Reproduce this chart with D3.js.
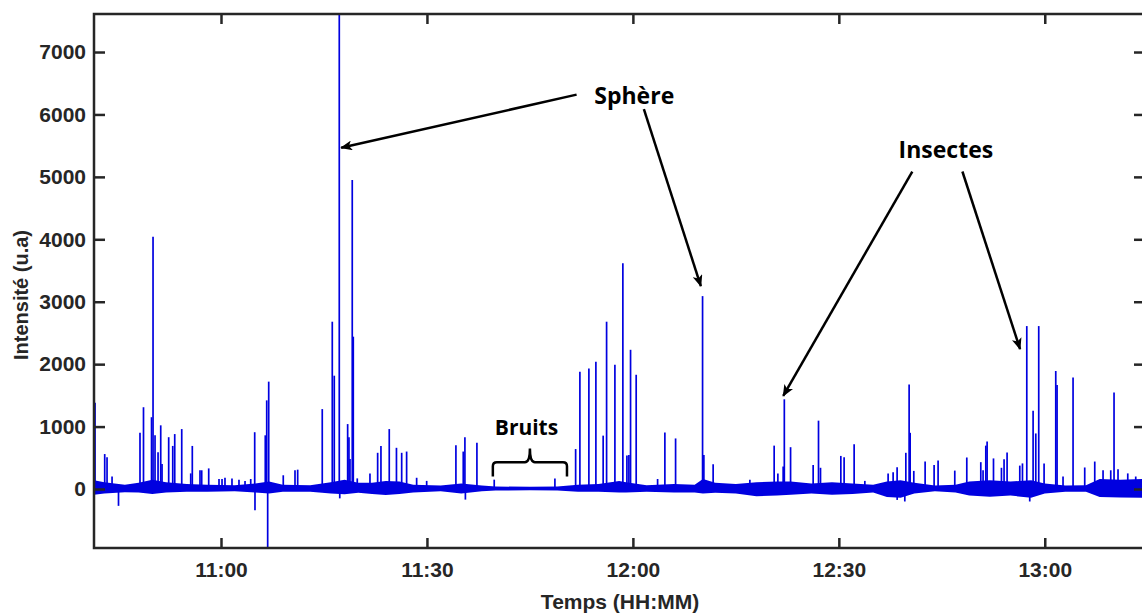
<!DOCTYPE html>
<html>
<head>
<meta charset="utf-8">
<script src="https://cdn.jsdelivr.net/npm/d3@7"></script>
<style>
  body { margin: 0; background: #fff; }
  svg { display: block; font-family: "Liberation Sans", Arial, sans-serif; }
  .axis text { font-size: 21px; font-weight: bold; fill: #262626; }
  .axis line { stroke: #262626; stroke-width: 2.5; }
  .note { font-family: "Open Sans", sans-serif; font-weight: bold; fill: #000; }
</style>
</head>
<body>
<div id="chart"></div>
<script>
// time in minutes after midnight, intensity in u.a
const timeRange = [641.5, 794.6];
const yRange = [-945, 7609];
const yTicks = [0, 1000, 2000, 3000, 4000, 5000, 6000, 7000];

// upward spikes [minute, intensity]
const spikes = [
  [641.65, 1380], [643.06, 560], [643.40, 510], [644.13, 200], [648.20, 900], [648.71, 1310],
  [649.88, 1150], [650.10, 4040], [650.39, 860], [650.83, 590], [651.22, 1020], [651.41, 400],
  [652.38, 830], [652.97, 690], [653.26, 880], [654.28, 960], [655.59, 250], [655.82, 690],
  [656.94, 300], [657.19, 300], [658.21, 330], [659.71, 160], [660.15, 160], [660.58, 180],
  [661.60, 170], [662.62, 150], [663.50, 130], [664.33, 160], [664.91, 910], [666.45, 860],
  [666.66, 1420], [666.95, 1720], [669.07, 220], [670.78, 300], [671.17, 310], [674.75, 1280],
  [676.21, 2680], [676.50, 1815], [677.23, 7700], [678.45, 1040], [678.64, 830], [678.79, 480],
  [679.12, 4950], [679.27, 2440], [679.85, 170], [681.70, 250], [682.82, 580], [683.30, 690],
  [684.51, 960], [685.56, 660], [686.32, 580], [687.04, 600], [688.50, 180], [689.96, 130],
  [694.22, 700], [695.29, 600], [695.53, 830], [697.28, 740], [699.80, 150], [708.64, 170],
  [711.66, 640], [712.28, 1880], [713.59, 1930], [714.61, 2040], [715.67, 855], [716.17, 2680],
  [717.38, 1990], [718.54, 3615], [719.13, 535], [719.42, 545], [719.66, 2230], [720.48, 1830],
  [723.60, 160], [724.66, 905], [726.22, 810], [730.15, 3090], [730.34, 545], [731.69, 395],
  [737.04, 150], [740.58, 695], [741.12, 250], [741.89, 360], [742.06, 1437], [742.97, 670],
  [746.26, 385], [747.04, 1095], [747.33, 340], [750.29, 530], [750.77, 510], [752.23, 715],
  [753.79, 130], [757.18, 250], [757.91, 270], [758.49, 350], [759.76, 580], [760.24, 1675],
  [760.39, 900], [760.92, 290], [762.57, 440], [763.88, 385], [764.46, 455], [766.89, 295],
  [768.64, 505], [770.68, 430], [771.01, 300], [771.41, 695], [771.60, 760], [772.53, 490],
  [773.69, 340], [774.07, 475], [774.51, 585], [776.36, 375], [776.75, 410], [777.38, 2610],
  [778.30, 1255], [778.69, 890], [779.12, 2610], [779.90, 410], [781.60, 1890], [781.79, 1665],
  [782.66, 200], [784.12, 1785], [785.82, 345], [787.28, 440], [788.49, 300], [789.61, 300],
  [790.09, 1545], [790.67, 315], [792.09, 250], [793.25, 200]
];

// downward spikes [minute, intensity]
const dips = [
  [645.07, -270], [664.95, -340], [666.80, -1000], [677.30, -150], [695.60, -170],
  [758.50, -175], [759.61, -200], [777.81, -200]
];

// noise band around the baseline
const bandTimes = [641.5, 643, 646, 648, 650, 652, 655, 658, 662, 665, 667, 669, 673, 676, 678, 680,
  682, 684, 686, 688, 692, 695, 698, 700, 705, 709, 712, 715, 718, 719, 722, 726, 729, 730.2, 732,
  735, 738, 741, 743, 746, 749, 752, 755, 757, 759, 761, 764, 767, 769, 772, 775, 778, 780, 783,
  786, 788, 791, 794.6];
const bandHigh = [140, 110, 70, 100, 150, 110, 80, 70, 60, 90, 120, 70, 60, 110, 150, 100,
  100, 130, 120, 70, 55, 90, 55, 40, 35, 40, 70, 80, 130, 110, 60, 80, 70, 160, 100,
  80, 110, 120, 120, 90, 110, 90, 70, 120, 140, 100, 55, 70, 120, 140, 120, 140, 90, 55,
  60, 160, 150, 160];
const bandLow = [-90, -70, -50, -55, -80, -55, -45, -45, -35, -55, -70, -45, -45, -70, -85, -60,
  -80, -95, -80, -55, -35, -70, -35, -25, -20, -25, -45, -45, -55, -55, -45, -55, -55, -70, -60,
  -70, -115, -105, -90, -70, -90, -80, -55, -130, -140, -70, -35, -55, -105, -125, -105, -140, -70, -45,
  -45, -130, -135, -140];

const toDate = m => new Date(2000, 0, 1, 0, 0, 0, Math.round(m * 60000));

const W = 1142, H = 613;
const margin = { top: 14, right: -3, bottom: 65, left: 94 };
const blue = "#0000e0";

const x = d3.scaleTime()
  .domain(timeRange.map(toDate))
  .range([margin.left, W - margin.right]);
const y = d3.scaleLinear()
  .domain(yRange)
  .range([H - margin.bottom, margin.top]);

const svg = d3.select("#chart").append("svg")
  .attr("width", W)
  .attr("height", H)
  .style("overflow", "hidden");

svg.append("defs").append("clipPath")
    .attr("id", "plot")
  .append("rect")
    .attr("x", margin.left)
    .attr("y", margin.top)
    .attr("width", W - margin.right - margin.left)
    .attr("height", H - margin.bottom - margin.top);

const marker = svg.select("defs").append("marker")
  .attr("id", "head")
  .attr("viewBox", "0 0 12 10")
  .attr("refX", 11)
  .attr("refY", 5)
  .attr("markerUnits", "userSpaceOnUse")
  .attr("markerWidth", 13)
  .attr("markerHeight", 10)
  .attr("orient", "auto");
marker.append("path").attr("d", "M0,0 L12,5 L0,10 L3,5 Z").attr("fill", "#000");

const plot = svg.append("g").attr("clip-path", "url(#plot)");

const band = bandTimes.map((t, i) => ({ t, hi: bandHigh[i], lo: bandLow[i] }));
const area = d3.area()
  .x(d => x(toDate(d.t)))
  .y0(d => y(d.lo))
  .y1(d => y(d.hi));

plot.append("path")
  .datum(band)
  .attr("d", area)
  .attr("fill", blue);

plot.selectAll(".spike")
  .data(spikes.concat(dips))
  .enter().append("line")
    .attr("class", "spike")
    .attr("x1", d => x(toDate(d[0])))
    .attr("x2", d => x(toDate(d[0])))
    .attr("y1", y(0))
    .attr("y2", d => y(d[1]))
    .attr("stroke", blue)
    .attr("stroke-width", 1.7);

// axes, ticks point inward
const xTicks = d3.timeMinute.every(30);
svg.append("g")
  .attr("class", "axis")
  .attr("transform", `translate(0,${H - margin.bottom})`)
  .call(d3.axisBottom(x).ticks(xTicks).tickFormat(d3.timeFormat("%H:%M"))
    .tickSizeInner(-10).tickSizeOuter(0).tickPadding(14))
  .call(g => g.select(".domain").remove());

svg.append("g")
  .attr("class", "axis")
  .attr("transform", `translate(0,${margin.top})`)
  .call(d3.axisTop(x).ticks(xTicks).tickFormat("").tickSizeInner(-10).tickSizeOuter(0))
  .call(g => g.select(".domain").remove());

svg.append("g")
  .attr("class", "axis")
  .attr("transform", `translate(${margin.left},0)`)
  .call(d3.axisLeft(y).tickValues(yTicks).tickFormat(d3.format("d"))
    .tickSizeInner(-11).tickSizeOuter(0).tickPadding(8))
  .call(g => g.select(".domain").remove());

svg.append("g")
  .attr("class", "axis")
  .attr("transform", `translate(${W - margin.right},0)`)
  .call(d3.axisRight(y).tickValues(yTicks).tickFormat("").tickSizeInner(-11).tickSizeOuter(0))
  .call(g => g.select(".domain").remove());

svg.append("rect")
  .attr("x", margin.left)
  .attr("y", margin.top)
  .attr("width", W - margin.right - margin.left)
  .attr("height", H - margin.bottom - margin.top)
  .attr("fill", "none")
  .attr("stroke", "#262626")
  .attr("stroke-width", 2.5);

svg.append("text")
  .attr("x", (margin.left + W) / 2 + 2)
  .attr("y", 609)
  .attr("text-anchor", "middle")
  .style("font-size", "21px")
  .style("font-weight", "bold")
  .style("fill", "#262626")
  .text("Temps (HH:MM)");

svg.append("text")
  .attr("transform", "translate(28,295) rotate(-90)")
  .attr("text-anchor", "middle")
  .style("font-size", "20px")
  .style("font-weight", "bold")
  .style("fill", "#262626")
  .text("Intensité (u.a)");

// annotations
const notes = [
  { text: "Sphère", t: 720.2, v: 6170, size: 23 },
  { text: "Insectes", t: 765.6, v: 5300, size: 23 },
  { text: "Bruits", t: 704.5, v: 860, size: 21 }
];
svg.selectAll(".note")
  .data(notes)
  .enter().append("text")
    .attr("class", "note")
    .attr("x", d => x(toDate(d.t)))
    .attr("y", d => y(d.v))
    .attr("text-anchor", "middle")
    .style("font-size", d => d.size + "px")
    .text(d => d.text);

const arrows = [
  [711.8, 6317, 677.5, 5465],
  [721.6, 6085, 729.9, 3250],
  [760.7, 5086, 741.9, 1490],
  [768.0, 5086, 776.4, 2240]
];
svg.selectAll(".arrow")
  .data(arrows)
  .enter().append("line")
    .attr("class", "arrow")
    .attr("x1", d => x(toDate(d[0])))
    .attr("y1", d => y(d[1]))
    .attr("x2", d => x(toDate(d[2])))
    .attr("y2", d => y(d[3]))
    .attr("stroke", "#000")
    .attr("stroke-width", 2.5)
    .attr("marker-end", "url(#head)");

// bracket over the noise section
const xl = x(toDate(699.6)), xm = x(toDate(705.0)), xr = x(toDate(710.4));
const yb = y(200), yt = y(430), yn = y(650);
const brace = d3.path();
brace.moveTo(xl, yb);
brace.lineTo(xl, yt + 4);
brace.quadraticCurveTo(xl, yt, xl + 4, yt);
brace.lineTo(xm - 5, yt);
brace.quadraticCurveTo(xm, yt, xm, yn);
brace.quadraticCurveTo(xm, yt, xm + 5, yt);
brace.lineTo(xr - 4, yt);
brace.quadraticCurveTo(xr, yt, xr, yt + 4);
brace.lineTo(xr, yb);
svg.append("path")
  .attr("d", brace.toString())
  .attr("fill", "none")
  .attr("stroke", "#000")
  .attr("stroke-width", 2.5);
</script>
</body>
</html>
